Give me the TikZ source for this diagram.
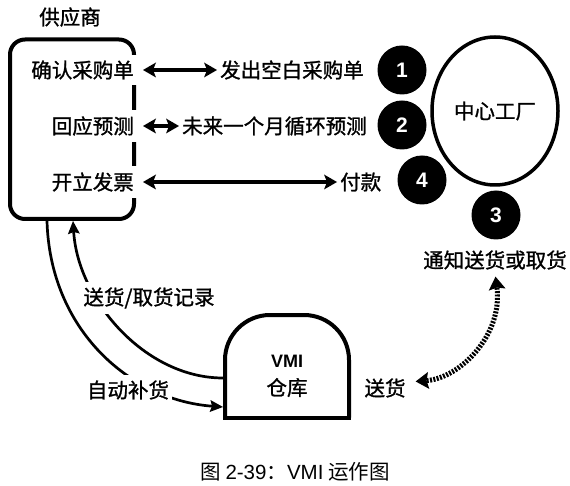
\documentclass[tikz,border=0pt]{standalone}
\usepackage{fontspec}
\setmainfont{Noto Sans CJK SC}[FakeBold=1.2]
\newfontfamily\capfont{Noto Sans CJK SC}
\newfontfamily\arialfont{Liberation Sans}
\usetikzlibrary{arrows.meta, shapes.geometric}

\begin{document}
\begin{tikzpicture}[
  x=1pt, y=-1pt,
  txt/.style={font=\fontsize{20.5}{24}\selectfont, inner sep=3pt},
  boxlbl/.style={txt, fill=white, anchor=east, inner ysep=6pt},
  outlbl/.style={txt, anchor=west},
  numdot/.style={circle, fill=black, minimum size=49pt, inner sep=0pt, text=white,
                 font=\arialfont\bfseries\fontsize{21}{24}\selectfont},
  rowarrow/.style={line width=3.5pt,
    {Stealth[length=13pt, width=15pt, inset=3pt, line width=0pt]}-{Stealth[length=13pt, width=15pt, inset=3pt, line width=0pt]}},
  curvearrow/.style={line width=2.7pt, -{Stealth[length=13pt, width=12pt, inset=2pt, line width=0pt]}},
  dotarrow/.style={line width=5pt, dash pattern=on 2pt off 1.4pt,
    {Stealth[length=13pt, width=17pt, inset=2pt, line width=0pt]}-{Stealth[length=13pt, width=17pt, inset=2pt, line width=0pt]}}
]
  \useasboundingbox (0,0) rectangle (570,486);

  % supplier
  \node[txt] (supname) at (70,17) {供应商};
  \node[draw, line width=4pt, rounded corners=15pt,
        minimum width=124pt, minimum height=179.5pt] (sup) at (72,129.25) {};
  \node[boxlbl] (conf) at (137,70)  {确认采购单};
  \node[boxlbl] (fcst) at (137,126) {回应预测};
  \node[boxlbl] (inv)  at (137,182) {开立发票};

  \node[outlbl] (blank) at (217,70)  {发出空白采购单};
  \node[outlbl] (cycle) at (179,126) {未来一个月循环预测};
  \node[outlbl] (pay)   at (337,182) {付款};

  \draw[rowarrow, shorten <=6pt] (conf.east) -- (blank.west);
  \draw[rowarrow, shorten <=6pt] (fcst.east) -- (cycle.west);
  \draw[rowarrow, shorten <=6pt] (inv.east)  -- (pay.west);

  % plant and steps
  \node[txt, draw, ellipse, line width=3.5pt, minimum width=126pt,
        minimum height=148pt] (plant) at (495,111) {中心工厂};
  \node[numdot] (n1) at (402,70)  {1};
  \node[numdot] (n2) at (402,125) {2};
  \node[numdot] (n4) at (422,180) {4};
  \node[numdot] (n3) at (496,215) {3};

  \node[txt] (notice) at (495,260) {通知送货或取货};
  \node[txt] (ship)   at (385,388) {送货};
  \draw[dotarrow, shorten <=7pt, shorten >=4pt]
    ([yshift=6pt]ship.east) .. controls (460,378) and (503,335) .. (notice.south);

  % VMI warehouse
  \draw[line width=4pt, rounded corners=45pt]
    (225,417.5) -- (225,315) -- (349,315) -- (349,417.5);
  \draw[line width=4pt, line cap=rect] (225,417.5) -- (349,417.5);
  \node[font=\fontsize{20.5}{28}\selectfont, align=center] (vmi) at (287,376)
    {{\arialfont\bfseries\fontsize{18}{20}\selectfont VMI}\\仓库};
  \coordinate (wIn)  at (223,407);
  \coordinate (wOut) at (223,378);

  \draw[curvearrow] ([xshift=-25pt]sup.south) .. controls (50,330) and (130,400) .. (wIn);
  \draw[curvearrow] (wOut) .. controls (145,378) and (78,300) .. ([xshift=1pt]sup.south);
  \node[txt, fill=white, inner ysep=6pt] (rec)  at (149,298) {送货/取货记录};
  \node[txt, fill=white, inner ysep=6pt] (auto) at (128,390) {自动补货};

  % caption
  \node[font=\capfont\fontsize{20.5}{24}\selectfont] (cap) at (295,472)
    {图 {\arialfont 2-39}：{\arialfont VMI} 运作图};
\end{tikzpicture}
\end{document}
